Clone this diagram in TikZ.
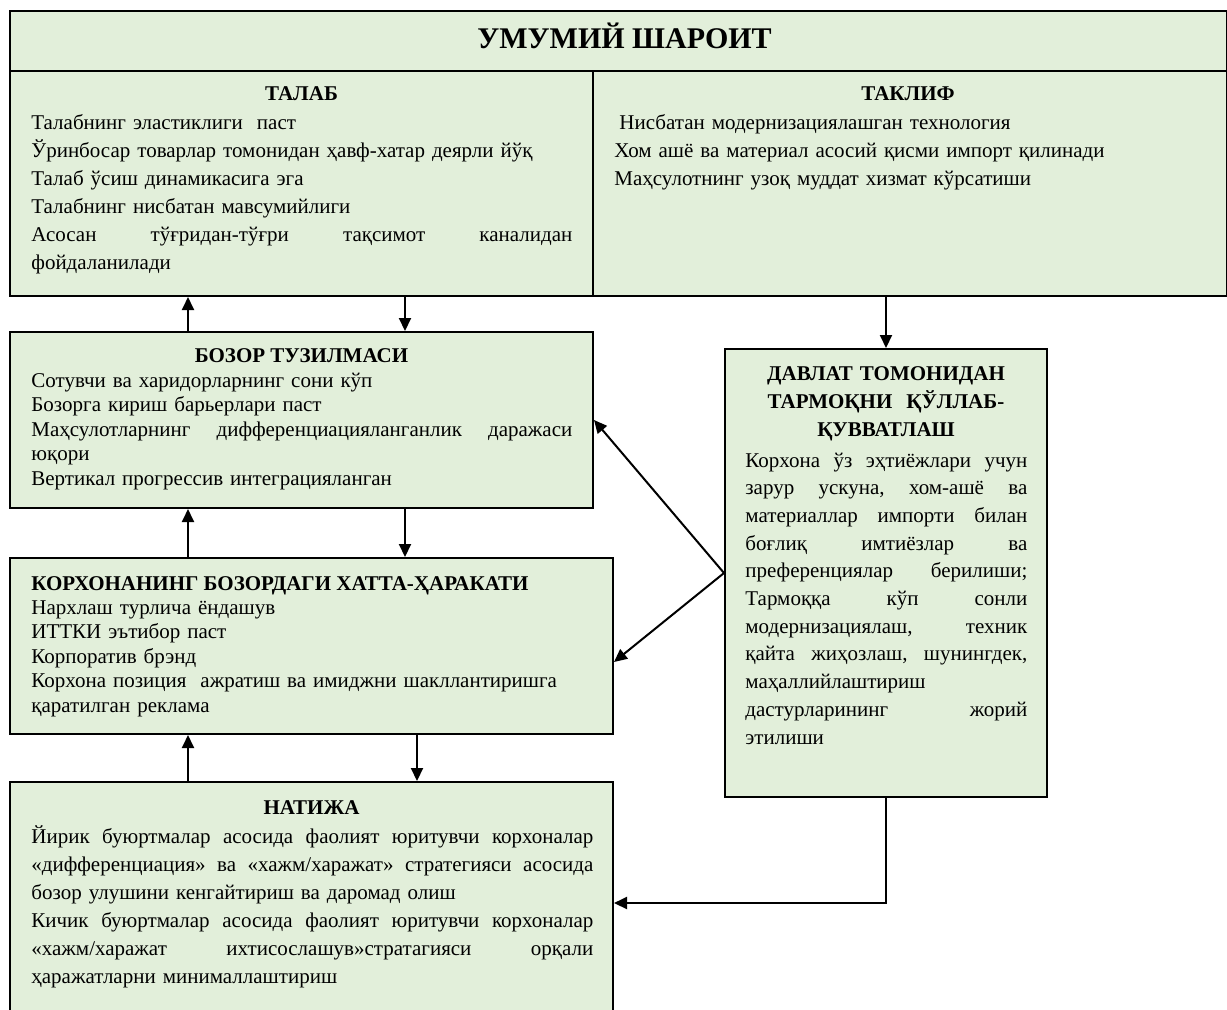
\documentclass[tikz,border=0pt]{standalone}
\usepackage{fontspec}
\setmainfont{Liberation Serif}
\usetikzlibrary{arrows.meta,fit,calc}
\definecolor{boxgreen}{HTML}{E2EFDA}
\newcommand{\jl}[2]{\leavevmode\hbox to #1{\frenchspacing\spaceskip=.25em plus 1fil\relax #2}}
\begin{document}
\begin{tikzpicture}[x=0.5pt,y=-0.5pt,
  box/.style={draw=black, line width=1pt, fill=boxgreen, inner sep=0pt, rectangle},
  ttl/.style={font=\bfseries\fontsize{10.5}{14}\selectfont, inner sep=0pt, anchor=base},
  txt/.style={font=\fontsize{10.5}{14}\selectfont, inner sep=0pt, anchor=base west, align=left},
  txtb/.style={txt, font=\fontsize{10.5}{12.25}\selectfont},
  arr/.style={line width=1pt, -{Triangle[length=6.5pt,width=6pt]}}]
\useasboundingbox (0,0) rectangle (1227,1009);
% boxes
\node[box, fit={(10,11)(1227,71)}] (header) {};
\node[box, fit={(10,71)(593,296)}] (talab) {};
\node[box, fit={(593,71)(1227,296)}] (taklif) {};
\node[box, fit={(10,332)(593,508)}] (bozor) {};
\node[box, fit={(10,558)(613,734)}] (korxona) {};
\node[box, fit={(10,782)(613,1024)}] (natija) {};
\node[box, fit={(725,349)(1047,797)}] (davlat) {};
% x positions of vertical connectors
\coordinate (xa) at (188,0);
\coordinate (xb) at (405,0);
\coordinate (xc) at (417,0);
% header
\node[font=\bfseries\fontsize{15}{18}\selectfont, inner sep=0pt, anchor=base] (headT) at ($(header.north)+(6,38)$) {УМУМИЙ ШАРОИТ};
% talab
\node[ttl] (talabT) at ($(talab.north)+(0,30)$) {ТАЛАБ};
\node[txt, text width=275pt] (talabX) at (31,129) {Талабнинг эластиклиги\ \ паст\\
Ўринбосар товарлар томонидан ҳавф-хатар деярли йўқ\\
Талаб ўсиш динамикасига эга\\
Талабнинг нисбатан мавсумийлиги\\
\jl{270.5pt}{Асосан тўғридан-тўғри тақсимот каналидан}\\
фойдаланилади};
% taklif
\node[ttl] (taklifT) at ($(taklif.north)+(-2,30)$) {ТАКЛИФ};
\node[txt, text width=300pt] (taklifX) at (614,129) {\hspace{2.5pt}Нисбатан модернизациялашган технология\\
Хом ашё ва материал асосий қисми импорт қилинади\\
Маҳсулотнинг узоқ муддат хизмат кўрсатиши};
% bozor
\node[ttl] (bozorT) at ($(bozor.north)+(0,31)$) {БОЗОР ТУЗИЛМАСИ};
\node[txtb, text width=275pt] (bozorX) at (31,387) {Сотувчи ва харидорларнинг сони кўп\\
Бозорга кириш барьерлари паст\\
\jl{270.5pt}{Маҳсулотларнинг дифференциацияланганлик даражаси}\\
юқори\\
Вертикал прогрессив интеграцияланган};
% korxona
\node[ttl, anchor=base west] (korxonaT) at (31,590) {КОРХОНАНИНГ БОЗОРДАГИ ХАТТА-ҲАРАКАТИ};
\node[txtb, text width=290pt] (korxonaX) at (31,614) {Нархлаш турлича ёндашув\\
ИТТКИ эътибор паст\\
Корпоратив брэнд\\
Корхона позиция\ \ ажратиш ва имиджни шакллантиришга\\
қаратилган реклама};
% natija
\node[ttl] (natijaT) at ($(natija.north)+(0,33)$) {НАТИЖА};
\node[txt, text width=285pt] (natijaX) at (31,843) {\jl{281pt}{Йирик буюртмалар асосида фаолият юритувчи корхоналар}\\
\jl{281pt}{«дифференциация» ва «хажм/харажат» стратегияси асосида}\\
бозор улушини кенгайтириш ва даромад олиш\\
\jl{281pt}{Кичик буюртмалар асосида фаолият юритувчи корхоналар}\\
\jl{281pt}{«хажм/харажат ихтисослашув»стратагияси орқали}\\
ҳаражатларни минималлаштириш};
% davlat
\node[ttl, text width=155pt, align=center] (davlatT) at ($(davlat.north)+(0,32)$) {ДАВЛАТ ТОМОНИДАН\\ТАРМОҚНИ\ \ ҚЎЛЛАБ-\\ҚУВВАТЛАШ};
\node[txt, text width=145pt, font=\fontsize{10.5}{13.85}\selectfont] (davlatX) at (745,467) {\jl{141pt}{Корхона ўз эҳтиёжлари учун}\\
\jl{141pt}{зарур ускуна, хом-ашё ва}\\
\jl{141pt}{материаллар импорти билан}\\
\jl{141pt}{боғлиқ имтиёзлар ва}\\
\jl{141pt}{преференциялар берилиши;}\\
\jl{141pt}{Тармоққа кўп сонли}\\
\jl{141pt}{модернизациялаш, техник}\\
\jl{141pt}{қайта жиҳозлаш, шунингдек,}\\
маҳаллийлаштириш\\
\jl{141pt}{дастурларининг жорий}\\
этилиши};
% connectors
\draw[arr] (bozor.north -| xa) -- (talab.south -| xa);
\draw[arr] (talab.south -| xb) -- (bozor.north -| xb);
\draw[arr] (davlat.north |- taklif.south) -- (davlat.north);
\draw[arr] (korxona.north -| xa) -- (bozor.south -| xa);
\draw[arr] (bozor.south -| xb) -- (korxona.north -| xb);
\draw[arr] (natija.north -| xa) -- (korxona.south -| xa);
\draw[arr] (korxona.south -| xc) -- (natija.north -| xc);
\draw[arr] (davlat.west) -- (bozor.east);
\draw[arr] (davlat.west) -- ($(korxona.east)+(0,16)$);
\draw[arr] (davlat.south) |- (natija.east);
\end{tikzpicture}
\end{document}
